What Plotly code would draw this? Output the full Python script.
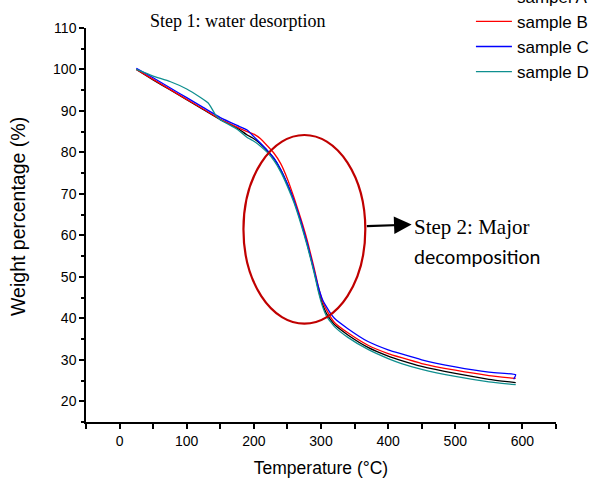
import plotly.graph_objects as go

# ---- data ----
temp_A = [25, 50, 75, 100, 125, 150, 175, 190, 200, 210, 220, 230, 240, 250, 260, 270, 280, 290, 296, 302, 308, 315, 320, 340, 370, 400, 420, 450, 500, 550, 590]
wt_A   = [100, 97.5, 95.1, 92.7, 90.3, 87.9, 85.9, 84.2, 83.3, 82.0, 80.4, 78.5, 75.8, 72.3, 68.2, 63.3, 57.6, 51.2, 47.0, 43.5, 41.2, 39.5, 38.5, 36.0, 33.0, 30.9, 29.8, 28.4, 26.7, 25.3, 24.5]

temp_B = [25, 50, 75, 100, 125, 150, 175, 190, 200, 210, 220, 230, 240, 250, 260, 270, 280, 290, 297, 303, 310, 320, 340, 370, 400, 420, 450, 500, 550, 590]
wt_B   = [100, 97.6, 95.2, 92.8, 90.4, 88.0, 86.1, 85.0, 84.4, 83.3, 81.6, 79.8, 77.3, 73.6, 69.0, 64.0, 58.5, 52.0, 47.0, 43.8, 41.5, 39.0, 36.5, 33.5, 31.5, 30.5, 29.1, 27.5, 26.2, 25.5]

temp_C = [25, 50, 75, 100, 125, 150, 175, 190, 200, 210, 220, 230, 240, 250, 260, 270, 280, 290, 296, 302, 308, 315, 320, 340, 370, 400, 420, 450, 500, 550, 590, 587]
wt_C   = [100.3, 98.0, 95.6, 93.2, 90.8, 88.4, 86.5, 85.4, 83.8, 82.2, 80.5, 78.6, 75.9, 72.4, 68.3, 63.4, 57.8, 51.4, 47.6, 44.6, 42.8, 41.0, 40.0, 37.5, 34.4, 32.4, 31.4, 30.0, 28.3, 27.0, 26.4, 25.3]

temp_D = [25, 50, 75, 100, 120, 132, 138, 143, 150, 175, 192, 200, 210, 220, 230, 240, 250, 260, 270, 280, 290, 296, 302, 308, 315, 320, 340, 370, 400, 420, 450, 500, 550, 590]
wt_D   = [100, 98.4, 97.1, 95.3, 93.3, 91.9, 90.4, 89.0, 87.9, 85.6, 83.4, 82.7, 81.5, 80.0, 78.0, 75.3, 71.8, 67.8, 62.8, 57.2, 50.8, 46.5, 43.0, 40.6, 39.0, 38.0, 35.4, 32.5, 30.3, 29.1, 27.7, 26.0, 24.7, 24.0]

names = ["sampel A", "sample B", "sample C", "sample D"]
colors = ["#000000", "#ff0000", "#0000ff", "#0f8f8f"]

fig = go.Figure()
for t, w, n, c in zip([temp_A, temp_B, temp_C, temp_D], [wt_A, wt_B, wt_C, wt_D], names, colors):
    fig.add_trace(go.Scatter(x=t, y=w, mode="lines", name=n,
                             line=dict(color=c, width=1.3, shape="spline", smoothing=0.4)))

# ellipse highlighting step 2
fig.add_shape(type="circle", xref="x", yref="y", x0=184.5, x1=366, y0=38.7, y1=84.2,
              line=dict(color="#c00000", width=2.2))

fig.add_annotation(x=435, y=62.6, ax=366, ay=62.2, xref="x", yref="y", axref="x", ayref="y",
                   text="", showarrow=True, arrowhead=2, arrowsize=1.6, arrowwidth=2.2,
                   arrowcolor="black")
fig.add_annotation(x=435, y=61.9, xref="x", yref="y", text="Step 2: Major", showarrow=False,
                   xanchor="left", yanchor="middle",
                   font=dict(family="Liberation Serif", size=21, color="black"))
fig.add_annotation(x=435, y=55.0, xref="x", yref="y", text="decomposition", showarrow=False,
                   xanchor="left", yanchor="middle",
                   font=dict(family="Lato", size=19.5, color="black"))
fig.add_annotation(x=0.322, y=1.018, xref="paper", yref="paper", text="Step 1: water desorption",
                   showarrow=False, xanchor="center", yanchor="middle",
                   font=dict(family="Liberation Serif", size=18, color="black"))
# y-axis title
fig.add_annotation(x=-0.1447, y=0.523, xref="paper", yref="paper", text="Weight percentage (%)",
                   showarrow=False, textangle=-90, xanchor="center", yanchor="middle",
                   font=dict(family="Liberation Sans", size=19.5, color="black"))

fig.update_layout(
    width=592, height=479,
    margin=dict(l=86, r=36, t=28, b=57, autoexpand=False),
    paper_bgcolor="white", plot_bgcolor="white",
    font=dict(family="Liberation Sans", color="black"),
    showlegend=True,
    legend=dict(x=0.819, y=1.125, xanchor="left", yanchor="top", itemwidth=36,
                bgcolor="rgba(0,0,0,0)", font=dict(size=17, family="Liberation Sans")),
)
fig.update_xaxes(range=[-50, 650], dtick=100, tick0=0, showgrid=False, zeroline=False,
                 showline=True, linecolor="black", linewidth=1.5,
                 ticks="outside", ticklen=5, tickwidth=1.5, tickcolor="black",
                 minor=dict(dtick=50, tick0=0, ticks="outside", ticklen=5, tickwidth=1.5, tickcolor="black"),
                 tickfont=dict(size=14),
                 title=dict(text="Temperature (°C)", font=dict(size=17.5), standoff=14))
fig.update_yaxes(range=[15, 110], dtick=10, tick0=0, showgrid=False, zeroline=False,
                 showline=True, linecolor="black", linewidth=1.5,
                 ticks="outside", ticklen=5, tickwidth=1.5, tickcolor="black",
                 minor=dict(dtick=5, tick0=0, ticks="outside", ticklen=3, tickwidth=1.5, tickcolor="black"),
                 tickfont=dict(size=14))

fig.write_html("out.html", config={"displayModeBar": False},
               post_script="document.body.style.margin='0';")
